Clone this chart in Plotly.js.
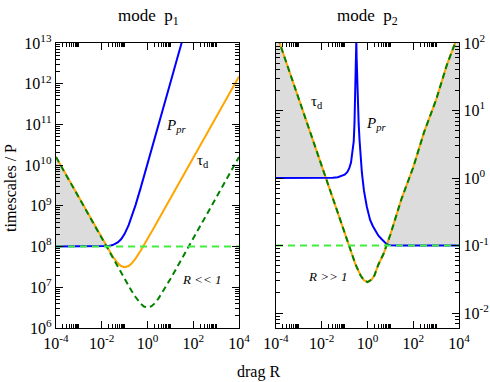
<!DOCTYPE html>
<html>
<head>
<meta charset="utf-8">
<script src="https://cdn.plot.ly/plotly-3.0.1.min.js"></script>
<style>
  html, body { margin: 0; padding: 0; background: #fff; }
  #plot { width: 490px; height: 382px; }
</style>
</head>
<body>
<div id="plot"></div>
<script>
// ---- mode p1 (left panel) ----
const rLeft = [1e-4, 3e-4, 1e-3, 3e-3, 0.01, 0.02, 0.03, 0.05, 0.07, 0.1, 0.15, 0.2, 0.3, 0.5, 0.7,
               1, 1.5, 2, 3, 5, 10, 30, 100, 300, 1000, 3000, 1e4];
const tauLeft = [1.585e10, 5.28e9, 1.585e9, 5.29e8, 1.60e8, 8.2e7, 5.7e7, 3.93e7, 3.32e7, 3.10e7, 3.33e7, 3.82e7, 5.07e7, 7.89e7, 1.08e8,
                 1.53e8, 2.28e8, 3.03e8, 4.55e8, 7.57e8, 1.51e9, 4.54e9, 1.51e10, 4.54e10, 1.51e11, 4.54e11, 1.51e12];
const lowLeft = [1.585e10, 5.28e9, 1.585e9, 5.28e8, 1.585e8, 7.93e7, 5.29e7, 3.18e7, 2.28e7, 1.60e7, 1.08e7, 8.2e6, 5.76e6, 3.96e6, 3.37e6,
                 3.17e6, 3.44e6, 3.96e6, 5.28e6, 8.2e6, 1.60e7, 4.76e7, 1.585e8, 4.76e8, 1.585e9, 4.76e9, 1.585e10];
const rPprLeft = [1e-4, 1e-3, 0.01, 0.02, 0.03, 0.04, 0.05, 0.07, 0.1, 0.15, 0.2, 0.3, 0.5, 0.7, 1, 1.5, 2, 3, 5, 10, 20, 32];
const pprLeft = [1e8, 1e8, 1.01e8, 1.04e8, 1.09e8, 1.17e8, 1.26e8, 1.51e8, 2.05e8, 3.36e8, 5.2e8, 1.045e9, 2.73e9, 5.25e9,
                 1.06e10, 2.37e10, 4.21e10, 9.46e10, 2.63e11, 1.05e12, 4.2e12, 1.07e13];
const periodLeftR = [1e-4, 1e4];
const periodLeft = [1e8, 1e8];
const shadeLeftR = [1e-4, 3e-4, 1e-3, 3e-3, 0.01, 0.0159];
const shadeLeftTop = [1.585e10, 5.28e9, 1.585e9, 5.28e8, 1.585e8, 1e8];
const shadeLeftBottom = [1e8, 1e8, 1e8, 1e8, 1e8, 1e8];

// ---- mode p2 (right panel) ----
const rRight = [1.2e-4, 3e-4, 1e-3, 3e-3, 0.01, 0.03, 0.1, 0.2, 0.3, 0.5, 0.7, 1, 1.5, 2, 3, 5,
                10, 30, 100, 300, 1000, 3000, 8300];
const tauRight = [120, 48.2, 14.45, 4.82, 1.445, 0.482, 0.1459, 0.0751, 0.0525, 0.0361, 0.0307, 0.0289, 0.0313, 0.0361, 0.0525, 0.0751,
                  0.1459, 0.482, 1.445, 4.82, 14.45, 48.2, 120];
const lowRight = [120, 48.2, 14.45, 4.82, 1.445, 0.482, 0.1459, 0.0751, 0.0525, 0.0361, 0.0307, 0.0289, 0.0313, 0.0361, 0.0525, 0.0751,
                  0.1459, 0.482, 1.445, 4.82, 14.45, 48.2, 120];
const rPprRight = [1e-4, 0.01, 0.03, 0.05, 0.07, 0.1, 0.13, 0.16, 0.19, 0.22, 0.25, 0.27, 0.285, 0.295, 0.305, 0.31,
                   0.325, 0.335, 0.35, 0.37, 0.39, 0.41, 0.45, 0.5, 0.57, 0.7, 0.8, 0.93, 1.1, 1.3, 1.7, 2.2, 3, 4.3, 7.1, 10, 20, 1e4];
const pprRight = [1, 1, 1.01, 1.03, 1.06, 1.12, 1.22, 1.4, 1.7, 2.3, 3.5, 6.5, 14, 25, 60, 110,
                  110, 60, 30, 17, 10, 6.5, 3.6, 2.1, 1.19, 0.65, 0.48, 0.38, 0.3, 0.24, 0.195, 0.17, 0.14, 0.123, 0.104, 0.101, 0.1, 0.1];
const periodRightR = [1e-4, 1e4];
const periodRight = [0.1, 0.1];
const shadeRightAR = [1e-4, 1.45e-4, 3e-4, 1e-3, 3e-3, 0.01, 0.01445];
const shadeRightATop = [100, 100, 48.2, 14.45, 4.82, 1.445, 1];
const shadeRightABottom = [1, 1, 1, 1, 1, 1, 1];
const shadeRightBR = [6.77, 10, 30, 100, 300, 1000, 3000, 6900, 1e4];
const shadeRightBTop = [0.1, 0.1459, 0.482, 1.445, 4.82, 14.45, 48.2, 100, 100];
const shadeRightBBottom = [0.1, 0.1, 0.1, 0.1, 0.1, 0.1, 0.1, 0.1, 0.1];

// tick positions / labels
const xMajorExp = [-4, -2, 0, 2, 4];
const xMinorExp = [-4, -2, 0, 2];
const yLeftExp = [6, 7, 8, 9, 10, 11, 12, 13];
const yRightExp = [-2, -1, 0, 1, 2];

const FONT = 'Liberation Serif, Times New Roman, serif';
const GRAY = '#dcdcdc';
const DARK = '#008000';
const LIGHT = '#40ee40';
const ORANGE = '#ffa500';
const BLUE = '#0000ff';

function powLabel(e) { return '10<sup>' + e + '</sup>'; }

// 2..last times each decade, kept inside the axis range (log units)
function minorDecades(exps, last, lo, hi) {
    const out = [];
    exps.forEach(d => {
        for (let k = 2; k <= last; k++) {
            const v = k * Math.pow(10, d);
            const lv = Math.log10(v);
            if (lv > lo && lv < hi) out.push(v);
        }
    });
    return out;
}

function shadePair(xs, bottom, top, xa, ya) {
    return [
        { x: xs, y: bottom, xaxis: xa, yaxis: ya, mode: 'lines', line: { width: 0, color: GRAY }, hoverinfo: 'skip' },
        { x: xs, y: top, xaxis: xa, yaxis: ya, mode: 'lines', fill: 'tonexty', fillcolor: GRAY,
          line: { width: 0, color: GRAY }, hoverinfo: 'skip' }
    ];
}

function curve(xs, ys, xa, ya, color, dash) {
    return { x: xs, y: ys, xaxis: xa, yaxis: ya, mode: 'lines',
             line: { color: color, width: 2, dash: dash || 'solid' } };
}

const traces = [].concat(
    shadePair(shadeLeftR, shadeLeftBottom, shadeLeftTop, 'x', 'y'),
    shadePair(shadeRightAR, shadeRightABottom, shadeRightATop, 'x2', 'y2'),
    shadePair(shadeRightBR, shadeRightBBottom, shadeRightBTop, 'x2', 'y2'),
    [
        curve(rLeft, tauLeft, 'x', 'y', ORANGE),
        curve(rPprLeft, pprLeft, 'x', 'y', BLUE),
        curve(rLeft, lowLeft, 'x', 'y', DARK, '6px,4px'),
        curve(periodLeftR, periodLeft, 'x', 'y', LIGHT, '7px,5px'),
        curve(rRight, tauRight, 'x2', 'y2', ORANGE),
        curve(rPprRight, pprRight, 'x2', 'y2', BLUE),
        curve(rRight, lowRight, 'x2', 'y2', DARK, '6px,4px'),
        curve(periodRightR, periodRight, 'x2', 'y2', LIGHT, '7px,5px')
    ]
);

const axisBase = {
    type: 'log',
    showgrid: false,
    zeroline: false,
    showline: true,
    linecolor: '#000',
    linewidth: 1.3,
    mirror: 'allticks',
    ticks: 'inside',
    ticklen: 7,
    tickwidth: 1,
    tickcolor: '#000',
    tickmode: 'array',
    tickfont: { family: FONT, size: 16, color: '#000' },
    automargin: false,
    fixedrange: true
};

function minorTicks(vals) {
    return { tickmode: 'array', tickvals: vals, ticks: 'inside', ticklen: 4, tickcolor: '#000', tickwidth: 1, showgrid: false };
}

function xAxis(domain, anchor) {
    return Object.assign({}, axisBase, {
        domain: domain, anchor: anchor, range: [-4, 4],
        tickvals: xMajorExp.map(e => Math.pow(10, e)),
        ticktext: xMajorExp.map(powLabel),
        minor: minorTicks(minorDecades(xMinorExp, 10, -4, 4))
    });
}

function yAxis(domain, anchor, range, exps, side) {
    return Object.assign({}, axisBase, {
        domain: domain, anchor: anchor, range: range, side: side,
        tickvals: exps.map(e => Math.pow(10, e)),
        ticktext: exps.map(powLabel),
        minor: minorTicks(minorDecades([exps[0] - 1].concat(exps), 9, range[0], range[1]))
    });
}

function note(text, xref, yref, x, y, size, extra) {
    return Object.assign({ text: text, xref: xref, yref: yref, x: x, y: y, xanchor: 'center', yanchor: 'middle',
                           showarrow: false, font: { size: size } }, extra || {});
}

const yDomain = [54 / 382, 339 / 382];

const layout = {
    width: 490,
    height: 382,
    margin: { l: 0, r: 0, t: 0, b: 0 },
    paper_bgcolor: '#fff',
    plot_bgcolor: '#fff',
    showlegend: false,
    font: { family: FONT, color: '#000' },
    xaxis: xAxis([56 / 490, 239 / 490], 'y'),
    yaxis: yAxis(yDomain, 'x', [6, 13], yLeftExp, 'left'),
    xaxis2: xAxis([276 / 490, 459 / 490], 'y2'),
    yaxis2: yAxis(yDomain, 'x2', [-2.22, 2], yRightExp, 'right'),
    annotations: [
        note('mode  p<sub>1</sub>', 'paper', 'paper', 148 / 490, 1 - 17 / 382, 17),
        note('mode  p<sub>2</sub>', 'paper', 'paper', 367 / 490, 1 - 17 / 382, 17),
        note('timescales / P', 'paper', 'paper', 10 / 490, 1 - 188 / 382, 16, { textangle: -90 }),
        note('drag R', 'paper', 'paper', 258 / 490, 1 - 372 / 382, 16),
        note('<i>P</i><sub><i>pr</i></sub>', 'x', 'y', 1.25, 10.95, 15),
        note('\u03c4<sub>d</sub>', 'x', 'y', 2.42, 10.1, 15),
        note('<i>R &lt;&lt; 1</i>', 'x', 'y', 2.38, 7.18, 13),
        note('\u03c4<sub>d</sub>', 'x2', 'y2', -2.2, 1.13, 15),
        note('<i>P</i><sub><i>pr</i></sub>', 'x2', 'y2', 0.36, 0.8, 15),
        note('<i>R &gt;&gt; 1</i>', 'x2', 'y2', -1.72, -1.46, 13)
    ]
};

Plotly.newPlot('plot', traces, layout, { displayModeBar: false, staticPlot: true });
</script>
</body>
</html>
